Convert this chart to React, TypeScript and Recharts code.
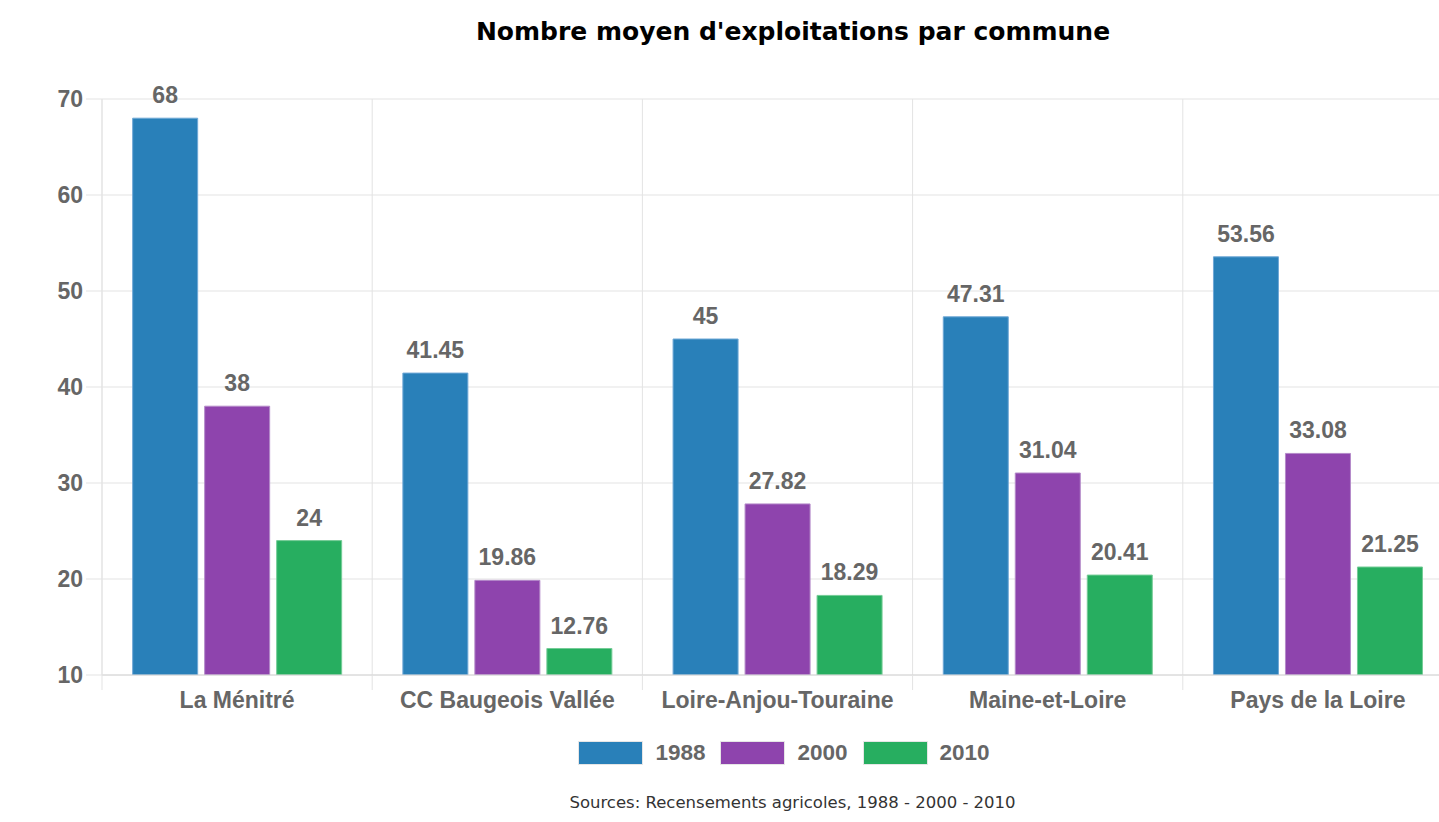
import React from "react";
import {
  BarChart,
  Bar,
  XAxis,
  YAxis,
  CartesianGrid,
  Legend,
  LabelList,
} from "recharts";

const categories = [
  "La Ménitré",
  "CC Baugeois Vallée",
  "Loire-Anjou-Touraine",
  "Maine-et-Loire",
  "Pays de la Loire",
];
const values1988 = [68, 41.45, 45, 47.31, 53.56];
const values2000 = [38, 19.86, 27.82, 31.04, 33.08];
const values2010 = [24, 12.76, 18.29, 20.41, 21.25];
const yTicks = [10, 20, 30, 40, 50, 60, 70];

const series = [
  { key: "y1988", name: "1988", fill: "#2980b9", stroke: "#6fa8d6" },
  { key: "y2000", name: "2000", fill: "#8e44ad", stroke: "#b48ac9" },
  { key: "y2010", name: "2010", fill: "#27ae60", stroke: "#74cc96" },
];

const data = categories.map((name, i) => ({
  name,
  y1988: values1988[i],
  y2000: values2000[i],
  y2010: values2010[i],
}));

const CHART_W = 1470;
const CHART_H = 822;
const Y_W = 102;
const RIGHT_M = 17;
const BAND = (CHART_W - Y_W - RIGHT_M) / categories.length;
const LEGEND_H = 24;

const GRID = "#e3e3e3";
const TEXT = "#666";
const BOLD_FONT = "'Liberation Sans', Arial, sans-serif";

const CategoryTick = (props: any) => {
  const { x, y, payload } = props;
  return (
    <g>
      <line x1={x - BAND / 2} x2={x - BAND / 2} y1={y} y2={y + 15} stroke={GRID} />
      <text
        x={x}
        y={y + 33}
        textAnchor="middle"
        fill={TEXT}
        fontSize={23}
        fontWeight="bold"
        fontFamily={BOLD_FONT}
      >
        {payload.value}
      </text>
    </g>
  );
};

const LegendBoxes = () => (
  <div
    style={{
      display: "flex",
      justifyContent: "center",
      alignItems: "center",
      height: LEGEND_H,
      fontFamily: BOLD_FONT,
      fontWeight: "bold",
      fontSize: 22.5,
      color: TEXT,
    }}
  >
    {series.map((s, i) => (
      <div
        key={s.key}
        style={{ display: "flex", alignItems: "center", marginLeft: i === 0 ? 0 : 15 }}
      >
        <div
          style={{
            width: 63,
            height: 22,
            background: s.fill,
            border: "1px solid #e6e6e6",
            marginRight: 12,
          }}
        />
        <span>{s.name}</span>
      </div>
    ))}
  </div>
);

export default function App() {
  return (
    <div
      style={{
        position: "fixed",
        left: 0,
        top: 0,
        width: 1439,
        height: 822,
        overflow: "hidden",
        background: "#fff",
      }}
    >
      <div
        style={{
          position: "absolute",
          left: 0,
          top: 18,
          width: 1586,
          textAlign: "center",
          fontFamily: "'DejaVu Sans', Verdana, sans-serif",
          fontWeight: "bold",
          fontSize: 25,
          lineHeight: "28px",
          color: "#000",
        }}
      >
        Nombre moyen d'exploitations par commune
      </div>
      <BarChart
        width={CHART_W}
        height={CHART_H}
        data={data}
        margin={{ top: 99, right: RIGHT_M, left: 0, bottom: 107 - LEGEND_H }}
        barCategoryGap="11.35%"
        barGap={7}
      >
        <CartesianGrid
          stroke={GRID}
          verticalCoordinatesGenerator={({ offset }: any) =>
            categories.map((_, i) => offset.left + (i * offset.width) / categories.length)
          }
        />
        <XAxis
          dataKey="name"
          height={40}
          tickLine={false}
          tickSize={0}
          tickMargin={0}
          axisLine={{ stroke: "#d6d6d6" }}
          tick={<CategoryTick />}
          interval={0}
        />
        <YAxis
          width={Y_W}
          domain={[10, 70]}
          ticks={yTicks}
          allowDataOverflow
          tickSize={16}
          tickMargin={3}
          tickLine={{ stroke: GRID }}
          axisLine={{ stroke: GRID }}
          tick={{ fill: TEXT, fontSize: 23, fontWeight: "bold", fontFamily: BOLD_FONT }}
        />
        <Legend
          content={<LegendBoxes />}
          wrapperStyle={{ position: "absolute", left: 0, top: 741, width: 1568, height: LEGEND_H }}
        />
        {series.map((s) => (
          <Bar
            key={s.key}
            dataKey={s.key}
            name={s.name}
            fill={s.fill}
            stroke={s.stroke}
            strokeWidth={1}
            isAnimationActive={false}
          >
            <LabelList
              dataKey={s.key}
              position="top"
              offset={15}
              fill={TEXT}
              fontSize={23}
              fontWeight="bold"
              fontFamily={BOLD_FONT}
            />
          </Bar>
        ))}
      </BarChart>
      <div
        style={{
          position: "absolute",
          left: 0,
          top: 793,
          width: 1585,
          textAlign: "center",
          fontFamily: "'DejaVu Sans', Verdana, sans-serif",
          fontSize: 16.5,
          lineHeight: "20px",
          color: "#333",
        }}
      >
        Sources: Recensements agricoles, 1988 - 2000 - 2010
      </div>
    </div>
  );
}
